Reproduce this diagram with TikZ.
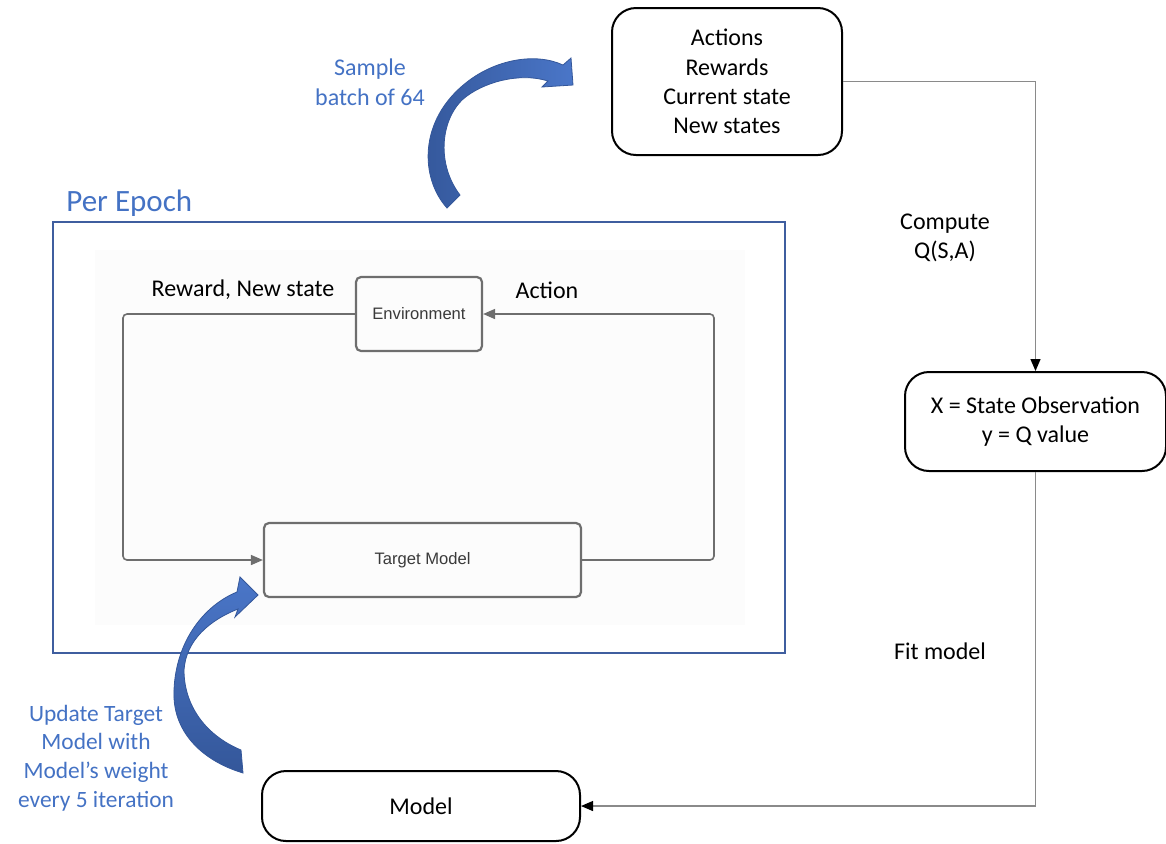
\documentclass[tikz,border=0pt]{standalone}
\usepackage{fontspec}
\setmainfont{Carlito}
\newfontfamily\arialf{Liberation Sans}
\usetikzlibrary{arrows.meta}
\definecolor{txtblue}{HTML}{4472C4}
\definecolor{framebl}{HTML}{3F5E9F}
\definecolor{arrlight}{HTML}{4A76C8}
\definecolor{arrdark}{HTML}{34579A}
\definecolor{conngrey}{HTML}{8A8A8A}
\definecolor{boxgrey}{HTML}{6E6E6E}
\definecolor{intext}{HTML}{3A3A3A}
\definecolor{faintbg}{HTML}{FCFCFC}
\tikzset{
  blackbox/.style={draw=black, line width=1pt, rounded corners=12pt, align=center, inner sep=0pt,
    font=\fontsize{12}{14.6}\selectfont},
  greybox/.style={draw=boxgrey, line width=1.1pt, rounded corners=2.5pt, inner sep=0pt,
    font=\arialf\fontsize{8.3}{10}\selectfont, text=intext},
  lbl/.style={align=center, inner sep=0pt, font=\fontsize{12}{14.6}\selectfont},
  bluelbl/.style={align=center, inner sep=0pt, text=txtblue, font=\fontsize{12}{14.8}\selectfont},
  flow/.style={draw=conngrey, line width=0.6pt, -{Triangle[color=black,length=6pt,width=5pt]}},
  inflow/.style={draw=boxgrey, line width=0.8pt, rounded corners=2pt, -{Triangle[length=6pt,width=5pt]}},
  bigarrow/.style={draw=arrdark, line width=0.4pt}
}
\begin{document}
\begin{tikzpicture}[x=0.5pt, y=-0.5pt]
\useasboundingbox (0,0) rectangle (1166,843);
% Per Epoch frame
\fill[faintbg] (95,250) rectangle (745,625);
\node[draw=framebl, line width=1pt, minimum width=366pt, minimum height=215.5pt, inner sep=0pt] (frame) at (419,437.5) {};
\node[anchor=west, inner sep=0pt, text=txtblue, font=\fontsize{15.5}{18}\selectfont] (pe) at (66,203) {Per Epoch};
% inner loop
\node[greybox, minimum width=63pt, minimum height=37pt] (env) at (419,314) {Environment};
\node[greybox, minimum width=158.5pt, minimum height=37pt] (tgt) at (422.5,560) {Target Model};
\coordinate (cr) at (714,314);
\coordinate (cl) at (123,314);
\draw[inflow] (tgt.east) -| (cr) -- (env.east);
\draw[inflow] (env.west) -- (cl) |- (tgt.west);
\node[lbl] (rns) at (243,290) {Reward, New state};
\node[lbl] (act) at (547,290) {Action};
% right side
\node[blackbox, minimum width=115pt, minimum height=73.5pt] (data) at (727,81.5) {Actions\\Rewards\\Current state\\New states};
\node[blackbox, minimum width=130.5pt, minimum height=49.5pt] (xbox) at (1035.5,421.5) {X = State Observation\\y = Q value};
\node[blackbox, minimum width=159pt, minimum height=35pt] (model) at (421,806) {Model};
\draw[flow] (data.east) -| (xbox.north);
\draw[flow] (xbox.south) |- (model.east);
\node[lbl] (cq) at (945,237.5) {Compute\\Q(S,A)};
\node[lbl] (fit) at (940,651) {Fit model};
% blue labels
\node[bluelbl] (samp) at (370,82) {Sample\\batch of 64};
\node[bluelbl, font=\fontsize{11.7}{14.35}\selectfont] (upd) at (96,758) {Update Target\\Model with\\Model’s weight\\every 5 iteration};
% curved arrows
\path[bigarrow, left color=arrdark, right color=arrlight]
  (447,208) .. controls (420,178) and (418,120) .. (467,82)
  .. controls (495,60) and (535,52) .. (563,65)
  -- (571,58) -- (573,85) -- (542,87) -- (548,81)
  .. controls (520,72) and (482,82) .. (462,100)
  .. controls (440,122) and (437,165) .. (460,195) -- cycle;
\path[bigarrow, top color=arrlight, bottom color=arrdark]
  (243,773) .. controls (200,760) and (172,730) .. (174,690)
  .. controls (176,640) and (205,605) .. (237,592)
  -- (240,577) -- (258,595) -- (235,617) -- (238,609)
  .. controls (210,620) and (186,640) .. (184,670)
  .. controls (184,705) and (205,735) .. (241,750) -- cycle;
\end{tikzpicture}
\end{document}
